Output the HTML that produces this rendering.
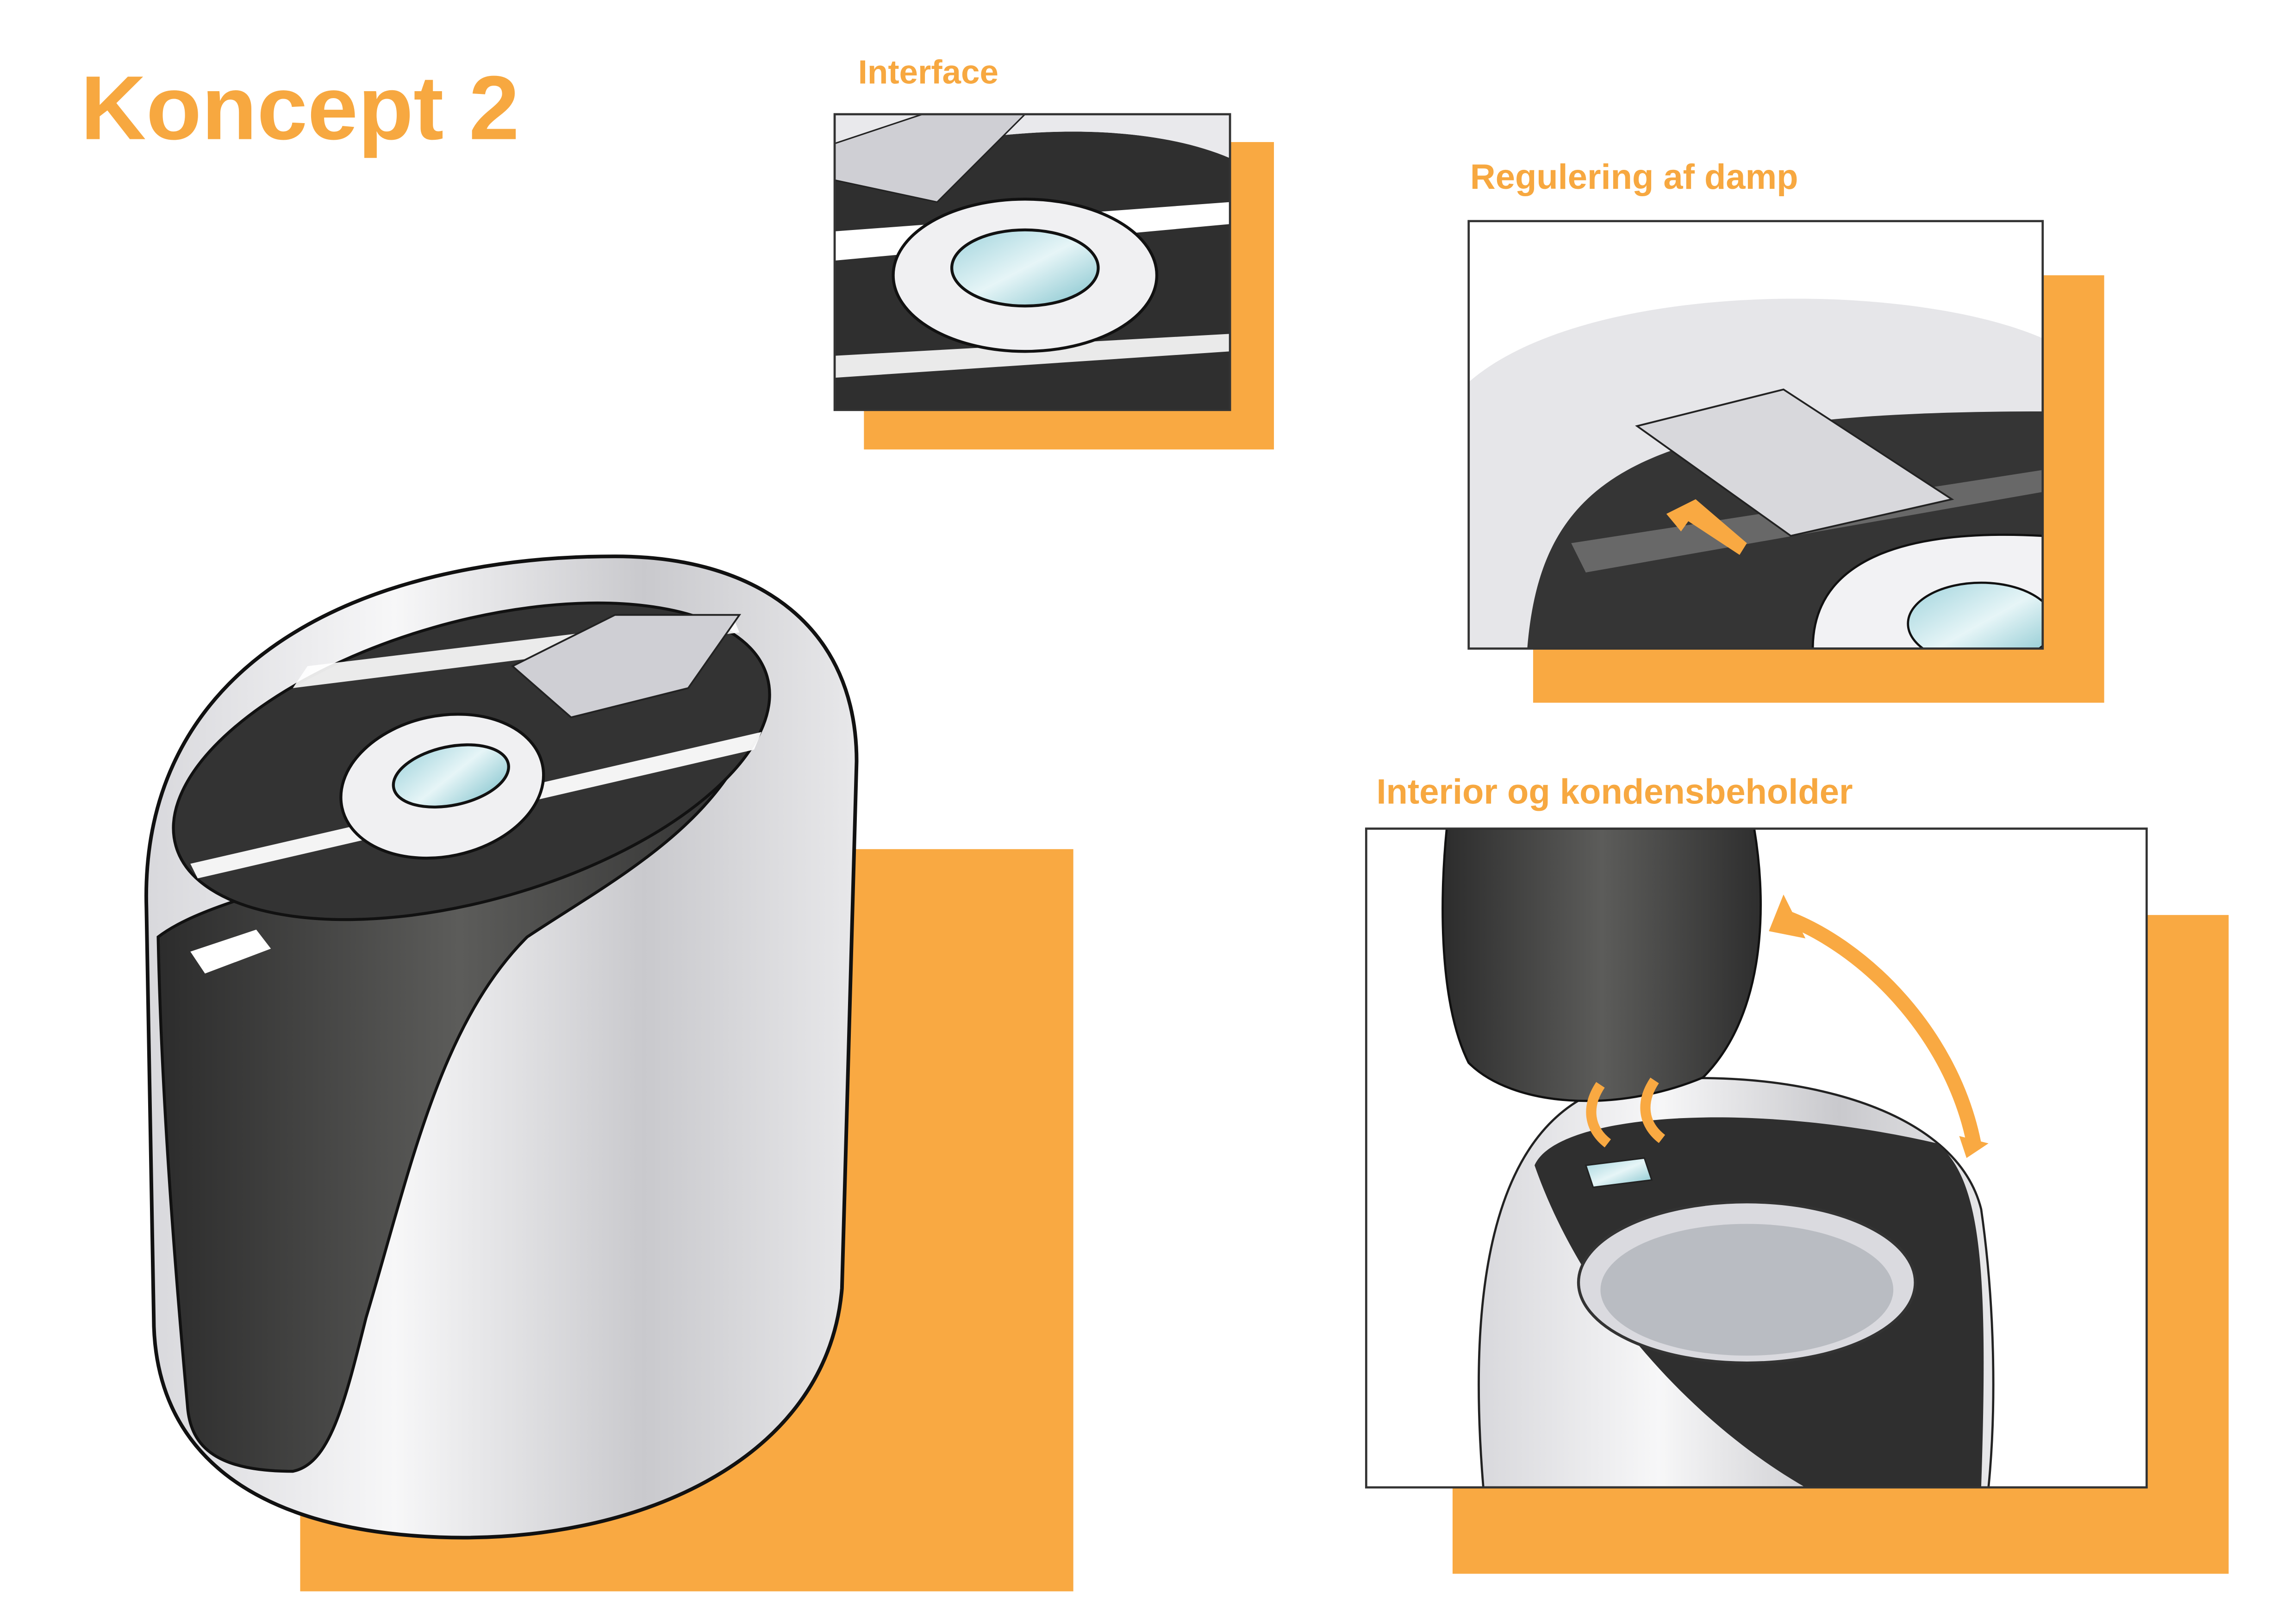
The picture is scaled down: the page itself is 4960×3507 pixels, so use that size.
<!DOCTYPE html>
<html><head><meta charset="utf-8"><style>
html,body{margin:0;padding:0;background:#fff;}
svg{display:block;}
text{font-family:"Liberation Sans",sans-serif;font-weight:bold;fill:#F7A840;}
</style></head><body>
<svg width="4960" height="3507" viewBox="0 0 1568 1108.6" xmlns="http://www.w3.org/2000/svg">
<defs>
<linearGradient id="wb" x1="0" y1="0" x2="1" y2="0">
<stop offset="0" stop-color="#d8d8dc"/><stop offset="0.35" stop-color="#f7f7f8"/><stop offset="0.7" stop-color="#c9c9cd"/><stop offset="1" stop-color="#e8e8ea"/></linearGradient>
<linearGradient id="dk" x1="0" y1="0" x2="1" y2="0">
<stop offset="0" stop-color="#2c2c2c"/><stop offset="0.5" stop-color="#5c5c5a"/><stop offset="1" stop-color="#2e2e2e"/></linearGradient>
<linearGradient id="bl" x1="0" y1="0" x2="1" y2="1">
<stop offset="0" stop-color="#9fd3dc"/><stop offset="0.5" stop-color="#e6f5f7"/><stop offset="1" stop-color="#7fc2cc"/></linearGradient>
</defs>

<text x="55" y="95" font-size="62">Koncept 2</text>
<text x="586" y="57" font-size="23">Interface</text>
<text x="1004" y="129" font-size="24">Regulering af damp</text>
<text x="940" y="549" font-size="24">Interior og kondensbeholder</text>

<rect x="590" y="97" width="280" height="210" fill="#F9A942"/>
<rect x="1047" y="188" width="390" height="292" fill="#F9A942"/>
<rect x="992" y="625" width="530" height="450" fill="#F9A942"/>
<rect x="205" y="580" width="528" height="507" fill="#F9A942"/>

<svg x="570" y="78" width="270" height="202" viewBox="0 0 270 202">
<rect width="270" height="202" fill="#fff"/>
<path d="M0,40 C80,10 200,0 270,30 L270,202 L0,202Z" fill="#2f2f2f"/>
<path d="M0,80 L270,60 L270,75 L0,100Z" fill="#fff"/>
<path d="M0,165 L270,150 L270,162 L0,180Z" fill="#fff" opacity="0.9"/>
<path d="M0,0 L270,0 L270,30 C200,0 80,10 0,40Z" fill="#e9e9ec"/>
<path d="M0,20 L60,0 L130,0 L70,60 L0,45Z" fill="#cfcfd4" stroke="#222" stroke-width="1"/>
<ellipse cx="130" cy="110" rx="90" ry="52" fill="#f0f0f2" stroke="#111" stroke-width="2"/>
<ellipse cx="130" cy="105" rx="50" ry="26" fill="url(#bl)" stroke="#111" stroke-width="2"/>
</svg>
<rect x="570" y="78" width="270" height="202" fill="none" stroke="#333" stroke-width="1.5"/>

<svg x="1003" y="151" width="392" height="292" viewBox="0 0 392 292">
<rect width="392" height="292" fill="#fff"/>
<path d="M0,110 C80,40 300,40 392,80 L392,292 L0,292Z" fill="#e6e6e9"/>
<path d="M40,292 C50,170 120,130 392,130 L392,292Z" fill="#353535"/>
<path d="M70,220 L392,170 L392,185 L80,240Z" fill="#8a8a8a" opacity="0.6"/>
<path d="M115,140 L215,115 L330,190 L220,215Z" fill="#d8d8dc" stroke="#222" stroke-width="1.2"/>
<path d="M235,292 C235,230 300,210 392,215 L392,292Z" fill="#f2f2f4" stroke="#111" stroke-width="1.5"/>
<ellipse cx="350" cy="275" rx="50" ry="28" fill="url(#bl)" stroke="#111" stroke-width="1.5"/>
<path d="M135,200 L155,190 L190,220 L185,228 L150,205 L145,212Z" fill="#F9A942"/>
</svg>
<rect x="1003" y="151" width="392" height="292" fill="none" stroke="#333" stroke-width="1.5"/>

<svg x="933" y="566" width="533" height="450" viewBox="0 0 533 450">
<rect width="533" height="450" fill="#fff"/>
<path d="M80,450 C70,330 80,200 170,175 C260,160 400,180 420,260 C430,330 430,400 425,450Z" fill="url(#wb)" stroke="#222" stroke-width="1.5"/>
<path d="M115,230 C130,195 260,185 390,215 C420,240 425,300 420,450 L300,450 C230,410 150,330 115,230Z" fill="#2f2f2f"/>
<ellipse cx="260" cy="310" rx="115" ry="55" fill="#dadadf" stroke="#333" stroke-width="2"/>
<ellipse cx="260" cy="315" rx="100" ry="45" fill="#b9bcc2"/>
<path d="M55,0 L265,0 C275,60 270,130 230,170 C170,195 100,190 70,160 C50,120 50,50 55,0Z" fill="url(#dk)" stroke="#111" stroke-width="1.5"/>
<path d="M285,60 C340,80 400,140 415,215" stroke="#F9A942" stroke-width="10" fill="none"/>
<polygon points="285,45 300,75 275,70" fill="#F9A942"/>
<polygon points="405,210 425,215 410,225" fill="#F9A942"/>
<path d="M160,175 C150,190 152,205 165,215" stroke="#F9A942" stroke-width="7" fill="none"/>
<path d="M197,172 C187,187 189,202 202,212" stroke="#F9A942" stroke-width="7" fill="none"/>
<polygon points="150,230 190,225 195,240 155,245" fill="url(#bl)" stroke="#222"/>
</svg>
<rect x="933" y="566" width="533" height="450" fill="none" stroke="#333" stroke-width="1.5"/>

<path d="M100,620 C95,450 250,380 420,380 C520,380 585,430 585,520 L575,880 C565,1000 430,1055 300,1050 C170,1045 105,990 105,900 Z" fill="url(#wb)" stroke="#111" stroke-width="2.5"/>
<path d="M108,640 C160,600 320,590 520,480 C500,560 420,600 360,640 C300,700 280,800 250,900 C235,960 225,1000 200,1005 C150,1005 130,990 128,960 C118,850 110,740 108,640Z" fill="url(#dk)" stroke="#111" stroke-width="2"/>
<ellipse cx="322" cy="520" rx="210" ry="95" transform="rotate(-16 322 520)" fill="#333" stroke="#111" stroke-width="2"/>
<path d="M130,590 L520,500 L515,512 L135,600Z" fill="#fff" opacity="0.95"/>
<path d="M210,455 L500,420 L505,432 L200,470Z" fill="#fff" opacity="0.9"/>
<path d="M350,455 L420,420 L505,420 L470,470 L390,490Z" fill="#cfcfd4" stroke="#222" stroke-width="1.2"/>
<ellipse cx="302" cy="537" rx="70" ry="48" transform="rotate(-12 302 537)" fill="#f0f0f2" stroke="#111" stroke-width="2"/>
<ellipse cx="308" cy="530" rx="40" ry="20" transform="rotate(-12 308 530)" fill="url(#bl)" stroke="#111" stroke-width="2"/>
<path d="M130,650 L175,635 L185,648 L140,665Z" fill="#fff"/>
</svg>
</body></html>
